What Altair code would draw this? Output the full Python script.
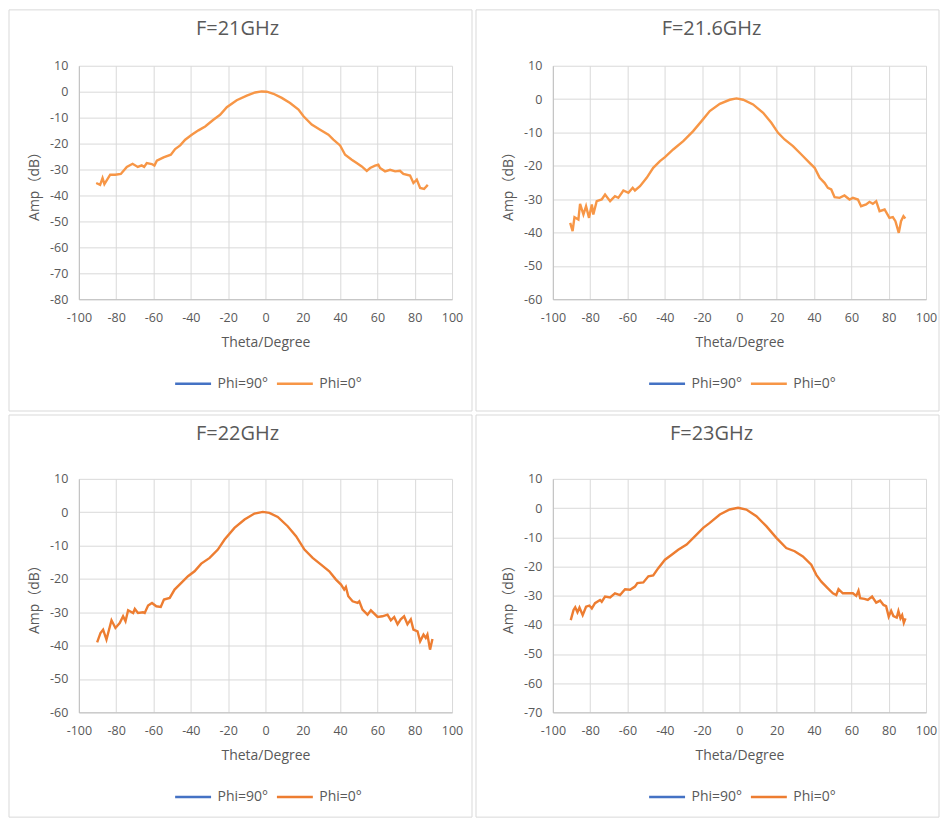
import altair as alt
import pandas as pd

# ---------------- data ----------------
series_names = ["Phi=90°", "Phi=0°"]

theta_21 = [-90.7,-88.6,-87.3,-86.3,-83.2,-80.5,-77.5,-74.3,-71.2,-68.4,-66.3,-65,-63.6,-60.9,-59.5,-58.2,-54.6,-50.7,-48.4,-45.7,-43,-39.5,-35.9,-32.3,-27.9,-24.3,-20.7,-15.4,-10,-5.5,-2,0.7,4.3,8.75,13.2,17.7,20.4,24.8,29.3,33.75,36.4,40,42.7,46.25,48.9,51.6,54.3,56.1,58.75,60.5,61.4,64.1,66.8,69.5,72.1,73.9,77.5,79.3,81.1,82.9,85,87]
amp_21 = [-35.2,-35.9,-33.3,-35.6,-32,-32,-31.7,-29,-27.8,-29,-28.4,-29,-27.5,-27.9,-28.5,-26.6,-25.3,-24.3,-22.1,-20.7,-18.5,-16.6,-14.9,-13.4,-10.8,-8.9,-6,-3.3,-1.5,-0.3,0.1,0,-0.8,-2.4,-4.4,-6.9,-9.5,-12.7,-14.7,-16.6,-18.5,-20.7,-24.3,-26.2,-27.5,-28.8,-30.5,-29.4,-28.5,-28.1,-29.4,-30.7,-30.1,-30.7,-30.5,-31.7,-32.3,-35.2,-33.9,-37.1,-37.5,-35.9]

theta_216 = [-90.7,-89.4,-88.4,-86.3,-85.4,-83.6,-82.2,-80.6,-79.1,-78.3,-76.5,-73.8,-72,-69.3,-66.7,-64.9,-62.2,-59.5,-57.2,-56,-53.3,-49.7,-46.2,-42.6,-39.9,-35.5,-30.1,-24.8,-20.3,-15.9,-10.5,-5.2,-1.6,2,7.3,12.7,17.1,20.7,24.2,28.7,33.2,37.6,40.3,43,45.6,47.4,49.2,51,53.7,56.3,59,60.8,63.5,65.2,67.9,69.7,71.5,73.3,75.1,77.8,80.4,82.2,83.6,85.4,86.6,87.9,88.9]
amp_216 = [-37.1,-39.6,-35.4,-36.1,-31.4,-34.6,-32.1,-35.6,-31.6,-34.6,-30.6,-30.1,-28.6,-30.6,-29.1,-29.6,-27.4,-28.1,-26.6,-27.4,-26.1,-23.6,-20.6,-18.6,-17.4,-15.1,-12.6,-9.6,-6.6,-3.6,-1.4,-0.2,0.2,-0.2,-1.6,-4.1,-7.1,-10.1,-12.1,-14.1,-16.6,-19.1,-20.6,-23.6,-25.1,-26.6,-27.1,-29.4,-29.6,-28.9,-30.1,-29.6,-30.1,-32.1,-31.6,-30.8,-31.4,-30.6,-33.6,-33.1,-35.6,-35.4,-36.6,-40.1,-36.6,-35.1,-35.8]

theta_22 = [-90.2,-88.4,-87,-85.2,-82.5,-80.4,-78.1,-76.3,-75,-73.6,-70.9,-70,-68.3,-65.6,-64.7,-62.9,-60.8,-58.5,-56.1,-54.4,-51.3,-48.7,-45.1,-41.5,-38,-34.4,-29.9,-25.5,-21.9,-16.6,-11.2,-5.9,-1.4,2.1,6.6,11.9,16.4,20.9,25.3,29.8,34.2,37.8,40.5,42.2,43.1,44.4,46.7,49.4,50.3,52,54.7,56.5,60.1,62.7,65.4,67.2,69,70.8,72.5,74.3,76.1,77.9,79.3,81.5,82.9,84.7,85.9,86.8,88.2,89.5]
amp_22 = [-39,-36.2,-35.2,-38.2,-32.4,-34.7,-33.2,-31.2,-32.7,-29.4,-30.2,-29,-30.2,-30,-30.2,-28,-27.2,-28.2,-28.4,-26.2,-25.7,-23.2,-21.2,-19.2,-17.7,-15.4,-13.7,-11.2,-8.2,-4.7,-2.2,-0.4,0.1,-0.2,-1.4,-4.2,-7.2,-11.2,-13.7,-15.7,-17.7,-20.2,-21.7,-23.2,-22.4,-25.2,-26.7,-27.2,-26.7,-29.2,-30.7,-29.4,-31.4,-31.2,-30.7,-32.4,-31.4,-33.6,-32.1,-31.2,-33.6,-32.1,-35.2,-35.7,-38.7,-36.7,-37.7,-36.7,-41.2,-38]

theta_23 = [-90.4,-88.9,-88,-86.8,-85.7,-84,-82.2,-80.4,-79.1,-77.4,-74.7,-73.8,-72,-69.3,-66.7,-64,-61.3,-58.6,-56,-54.7,-51.5,-48.8,-46.2,-43.5,-39.9,-36.3,-32.8,-28.3,-23.9,-19.4,-15.9,-10.5,-5.2,-0.7,3.7,9.1,14.4,19.8,25.1,29.6,34,38.5,41.2,43.9,47.4,50.1,51.9,53.1,55.4,58.1,60.8,62.6,63.8,64.7,67,68.8,71.1,73.3,75.4,77.2,78.6,80,81.3,82.5,84.3,85.2,86.3,87.2,88.1,89]
amp_23 = [-38.4,-34.9,-34,-35.7,-34.1,-36.7,-33.8,-33.4,-34.4,-32.6,-31.5,-32.1,-30.3,-30.6,-29.2,-29.8,-27.8,-28,-26.9,-25.7,-25.5,-23.4,-23.1,-20.6,-17.7,-16,-14.3,-12.5,-9.7,-6.8,-5.1,-2.2,-0.5,0.1,-0.5,-2.8,-6.2,-10.2,-13.7,-14.8,-16.6,-19.4,-22.9,-25.2,-27.5,-29.2,-29.8,-27.8,-29.2,-29.2,-29.2,-30.1,-28.3,-30.9,-31.1,-31.5,-30.3,-32.4,-31.7,-33.2,-33.6,-37.2,-35.2,-37,-37.5,-35.3,-37.8,-36.7,-39.3,-37.8]

x_ticks = [-100, -80, -60, -40, -20, 0, 20, 40, 60, 80, 100]
y_ticks_21 = [10, 0, -10, -20, -30, -40, -50, -60, -70, -80]
y_ticks_216 = [10, 0, -10, -20, -30, -40, -50, -60]
y_ticks_22 = [10, 0, -10, -20, -30, -40, -50, -60]
y_ticks_23 = [10, 0, -10, -20, -30, -40, -50, -60, -70]

titles = ["F=21GHz", "F=21.6GHz", "F=22GHz", "F=23GHz"]

# ---------------- styling ----------------
FONT = "Open Sans, Noto Sans CJK SC"
TXT = "#595959"
BLUE = "#4472C4"
W, H = 374, 234


def panel(theta, amp, title, yticks, orange, box):
    df = pd.DataFrame({"theta": theta, "amp": amp, "series": series_names[1]})
    line = alt.Chart(df).mark_line(strokeWidth=2.4).encode(
        x=alt.X("theta:Q",
                scale=alt.Scale(domain=[x_ticks[0], x_ticks[-1]], nice=False, zero=False),
                axis=alt.Axis(values=x_ticks, title="Theta/Degree",
                              labelExpr="'' + datum.value", labelPadding=12,
                              labelFlush=False, labelOverlap=False,
                              titlePadding=12)),
        y=alt.Y("amp:Q",
                scale=alt.Scale(domain=[min(yticks), max(yticks)], nice=False, zero=False),
                axis=alt.Axis(values=yticks, title="Amp（dB）",
                              labelExpr="'' + datum.value", labelPadding=11,
                              labelFlush=False, labelOverlap=False,
                              titlePadding=8)),
        color=alt.Color("series:N",
                        scale=alt.Scale(domain=series_names, range=[BLUE, orange]),
                        legend=alt.Legend(title=None, orient="none", direction="horizontal",
                                          legendX=95, legendY=299,
                                          symbolType="stroke", symbolSize=1296,
                                          symbolStrokeWidth=2.5,
                                          labelFont=FONT, labelFontSize=14,
                                          labelColor=TXT, labelOffset=5,
                                          columnPadding=3)),
    )
    x1, x2, y1, y2 = box
    border = alt.Chart(alt.Data(values=[{}])).mark_rect(
        fill="white", fillOpacity=0, stroke="#d9d9d9", strokeWidth=1
    ).encode(x=alt.value(x1), x2=alt.value(x2), y=alt.value(y1), y2=alt.value(y2))
    return alt.layer(border, line).properties(
        width=W, height=H,
        title=alt.TitleParams(title, font=FONT, fontSize=20, fontWeight="normal",
                              color=TXT, anchor="middle", frame="group",
                              dx=-28, offset=-30),
    )


p1 = panel(theta_21, amp_21, titles[0], y_ticks_21, "#F79646", (-70, 394, -56, 346))
p2 = panel(theta_216, amp_216, titles[1], y_ticks_216, "#F79646", (-77, 387, -56, 346))
p3 = panel(theta_22, amp_22, titles[2], y_ticks_22, "#ED7D31", (-70, 394, -64, 339))
p4 = panel(theta_23, amp_23, titles[3], y_ticks_23, "#ED7D31", (-77, 387, -64, 339))

chart = alt.concat(
    p1, p2, p3, p4, columns=2, spacing={"row": 180, "column": 101}, bounds="flush"
).resolve_scale(
    x="independent", y="independent", color="independent"
).resolve_legend(
    color="independent"
).properties(
    padding=0, background="white"
).configure_axis(
    labelFont=FONT, labelFontSize=12.5, labelColor=TXT,
    titleFont=FONT, titleFontSize=14, titleColor=TXT, titleFontWeight="normal",
    grid=True, gridColor="#d9d9d9", gridWidth=1,
    domainColor="#bfbfbf", domainWidth=1, ticks=False, tickSize=0,
).configure_view(strokeWidth=0)

chart.save("out.html", embed_options={"renderer": "svg", "actions": False})
